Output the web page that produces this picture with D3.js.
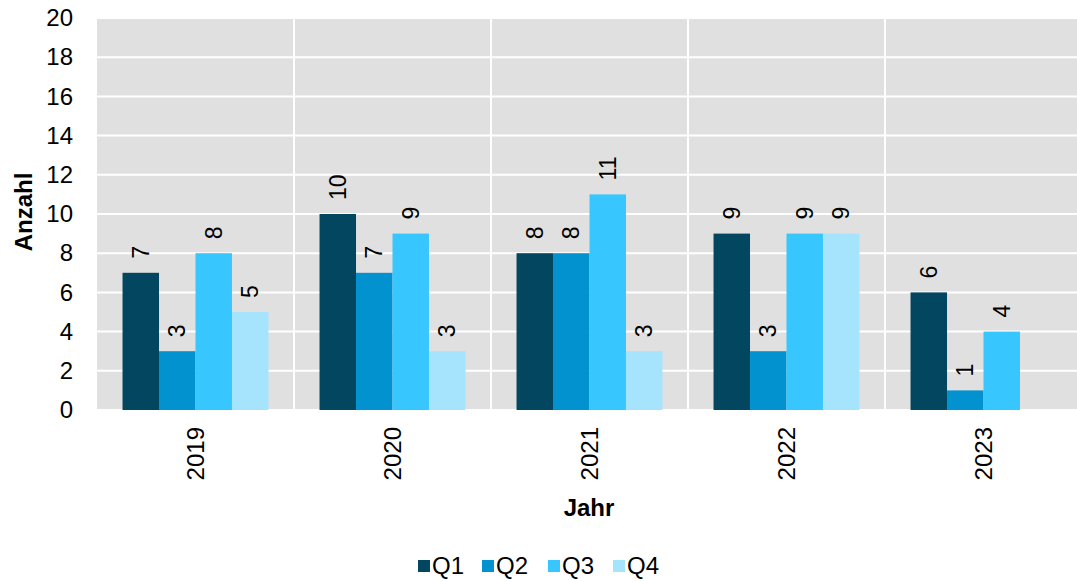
<!DOCTYPE html>
<html><head><meta charset="utf-8">
<script src="https://cdn.jsdelivr.net/npm/d3@7"></script>
<style>body{margin:0;background:#fff;} text{font-family:"Liberation Sans",Arial,sans-serif;}</style>
</head><body><svg id="c" width="1077" height="581"></svg>
<script>
const years = ["2019","2020","2021","2022","2023"];
const series = ["Q1","Q2","Q3","Q4"];
const q1 = [7,10,8,9,6];
const q2 = [3,7,8,3,1];
const q3 = [8,9,11,9,4];
const q4 = [5,3,3,9,null];
const yTicks = [0,2,4,6,8,10,12,14,16,18,20];
const colors = ["#02465f","#0292cf","#38c6fe","#a6e3fd"];
const values = [q1,q2,q3,q4];

const svg = d3.select("#c");
const L=97, R=1082, T=18, B=410;
const x = d3.scaleBand().domain(years).range([L,R]).paddingInner(0).paddingOuter(0);
const xi = d3.scaleBand().domain(series).range([0,x.bandwidth()]).paddingInner(0).paddingOuter(0.7);
const y = d3.scaleLinear().domain([0,20]).range([B,T]);

svg.append("rect").attr("x",L).attr("y",T).attr("width",R-L).attr("height",B-T).attr("fill","#e0e0e0");
svg.append("g").selectAll("line").data(yTicks).join("line")
  .attr("x1",L).attr("x2",R).attr("y1",d=>y(d)).attr("y2",d=>y(d))
  .attr("stroke","#fff").attr("stroke-width",2);
svg.append("g").selectAll("line").data(years.slice(1)).join("line")
  .attr("x1",d=>x(d)).attr("x2",d=>x(d)).attr("y1",T).attr("y2",B)
  .attr("stroke","#fff").attr("stroke-width",2);

// y axis
const ya = svg.append("g").attr("transform",`translate(${L},0)`)
  .call(d3.axisLeft(y).tickValues(yTicks).tickSize(0).tickPadding(24));
ya.select(".domain").remove();
ya.selectAll("text").attr("font-size",24).attr("fill","#000").attr("font-family","Liberation Sans, Arial, sans-serif");

// x axis
const xa = svg.append("g").attr("transform",`translate(0,${B})`)
  .call(d3.axisBottom(x).tickSize(0));
xa.select(".domain").remove();
xa.selectAll("text").attr("font-size",24).attr("fill","#000").attr("font-family","Liberation Sans, Arial, sans-serif")
  .attr("transform","rotate(-90)").attr("text-anchor","end").attr("dy","0.35em").attr("x",-17).attr("y",0);

// bars
series.forEach((s,si)=>{
  const g = svg.append("g");
  const data = years.map((yr,i)=>({yr,v:values[si][i]})).filter(d=>d.v!=null);
  g.selectAll("rect").data(data).join("rect")
    .attr("x",d=>x(d.yr)+xi(s)).attr("width",xi.bandwidth())
    .attr("y",d=>y(d.v)).attr("height",d=>B-y(d.v))
    .attr("fill",colors[si]);
  g.selectAll("text").data(data).join("text")
    .attr("transform",d=>`translate(${x(d.yr)+xi(s)+xi.bandwidth()/2},${y(d.v)-14}) rotate(-90)`)
    .attr("text-anchor","start").attr("dy","0.35em")
    .attr("font-size",23).attr("fill","#000").text(d=>d.v);
});

// axis titles
svg.append("text").attr("x",589).attr("y",516).attr("text-anchor","middle")
  .attr("font-size",24).attr("font-weight","bold").text("Jahr");
svg.append("text").attr("transform","translate(32,212) rotate(-90)").attr("text-anchor","middle")
  .attr("font-size",24).attr("font-weight","bold").text("Anzahl");

// legend
const lx = [418,482,548,613];
const lg = svg.append("g");
series.forEach((s,i)=>{
  lg.append("rect").attr("x",lx[i]).attr("y",560).attr("width",12).attr("height",12).attr("fill",colors[i]);
  lg.append("text").attr("x",lx[i]+14).attr("y",574).attr("font-size",24).attr("fill","#000").text(s);
});
</script></body></html>
